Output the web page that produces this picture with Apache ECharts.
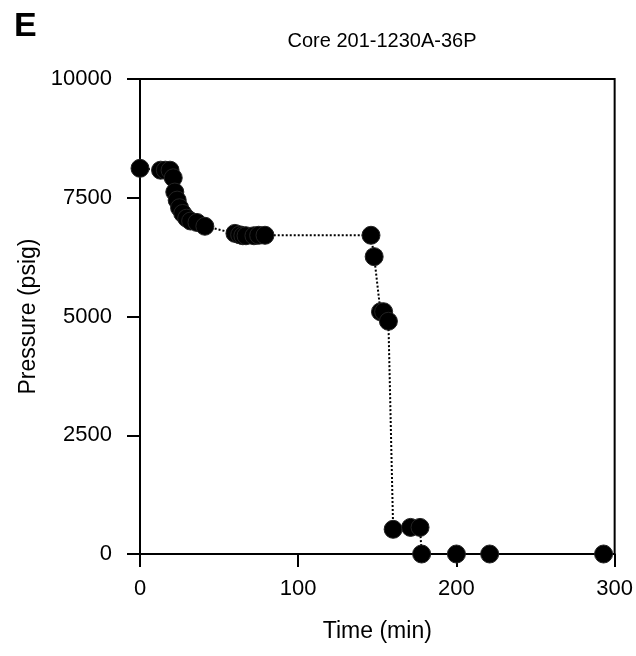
<!DOCTYPE html>
<html>
<head>
<meta charset="utf-8">
<script src="https://cdn.jsdelivr.net/npm/echarts@6/dist/echarts.min.js"></script>
<style>
  html, body { margin: 0; padding: 0; background: #fff; }
  #main { width: 636px; height: 656px; }
</style>
</head>
<body>
<div id="main"></div>
<script>
// elapsed time (min) and pressure (psig)
var timeMin = [0, 13, 16, 19, 21, 22, 23.5, 25, 27, 29.5, 32, 36, 41,
  60, 63, 65, 67, 72, 75, 79, 146, 148, 152, 154, 157,
  160, 171, 177, 178, 200, 221, 293];
var pressure = [8120, 8080, 8080, 8080, 7920, 7620, 7450, 7290, 7170, 7070, 7010, 6980, 6900,
  6750, 6720, 6700, 6700, 6700, 6710, 6710, 6710, 6260, 5100, 5100, 4900,
  520, 560, 560, 0, 0, 0, 0];
var xTicks = [0, 100, 200, 300];
var yTicks = [0, 2500, 5000, 7500, 10000];

var points = timeMin.map(function (t, i) { return [t, pressure[i]]; });
var font = 'Liberation Sans, Arial, Helvetica, sans-serif';

var chart = echarts.init(document.getElementById('main'));
chart.setOption({
  animation: false,
  backgroundColor: '#fff',
  title: [
    {
      text: 'E',
      left: 9, top: 5,
      textStyle: { fontFamily: font, fontSize: 34, fontWeight: 'bold', color: '#000' }
    },
    {
      text: 'Core 201-1230A-36P',
      left: 377, top: 26,
      textAlign: 'center',
      textStyle: { fontFamily: font, fontSize: 20, fontWeight: 'normal', color: '#000' }
    }
  ],
  grid: {
    left: 140, top: 79, right: 21, bottom: 102,
    show: true, borderColor: '#000', borderWidth: 2, backgroundColor: 'transparent'
  },
  xAxis: {
    type: 'value',
    min: xTicks[0], max: xTicks[xTicks.length - 1], interval: 100,
    name: 'Time (min)',
    nameLocation: 'middle',
    nameGap: 66,
    nameTextStyle: { fontFamily: font, fontSize: 23, color: '#000' },
    axisLine: { show: true, onZero: false, lineStyle: { color: '#000', width: 2 } },
    axisTick: { show: true, inside: false, length: 13, lineStyle: { color: '#000', width: 2 } },
    axisLabel: { fontFamily: font, fontSize: 22, color: '#000', margin: 24,
      formatter: function (v) { return String(v); } },
    splitLine: { show: false }
  },
  yAxis: {
    type: 'value',
    min: yTicks[0], max: yTicks[yTicks.length - 1], interval: 2500,
    name: 'Pressure (psig)',
    nameLocation: 'middle',
    nameGap: 96,
    nameTextStyle: { fontFamily: font, fontSize: 23, color: '#000' },
    axisLine: { show: true, onZero: false, lineStyle: { color: '#000', width: 2 } },
    axisTick: { show: true, inside: false, length: 13, lineStyle: { color: '#000', width: 2 } },
    axisLabel: { fontFamily: font, fontSize: 22, color: '#000', margin: 28,
      formatter: function (v) { return String(v); } },
    splitLine: { show: false }
  },
  series: [
    {
      type: 'line',
      data: points,
      symbol: 'circle',
      symbolSize: 18,
      itemStyle: { color: '#000', borderColor: '#222', borderWidth: 1 },
      lineStyle: { color: '#000', width: 2, type: [2, 2] }
    }
  ]
});
</script>
</body>
</html>
